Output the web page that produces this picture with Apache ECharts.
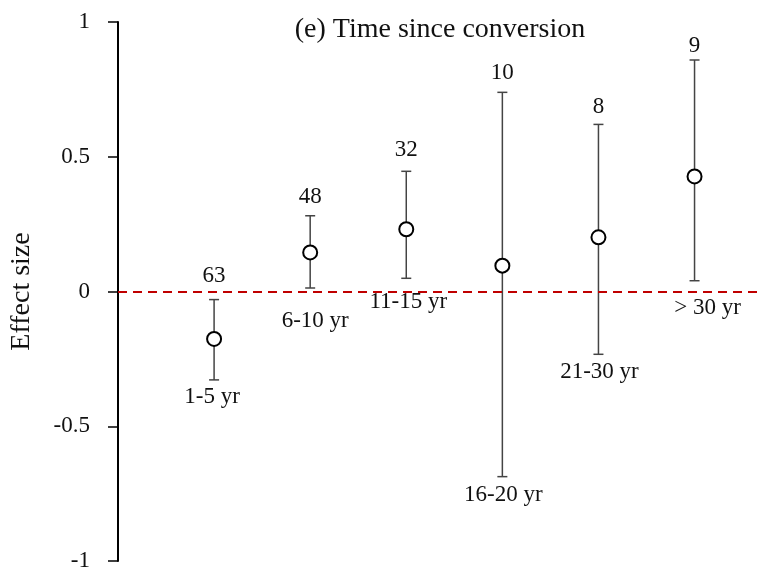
<!DOCTYPE html>
<html>
<head>
<meta charset="utf-8">
<script src="https://cdn.jsdelivr.net/npm/echarts@6/dist/echarts.min.js"></script>
<style>
  html, body { margin: 0; padding: 0; background: #fff; }
  #mainChart { width: 757px; height: 575px; }
</style>
</head>
<body>
<div id="mainChart"></div>
<script>
// 数据
var categories = ['1-5 yr', '6-10 yr', '11-15 yr', '16-20 yr', '21-30 yr', '> 30 yr'];
var means = [-0.176, 0.145, 0.231, 0.096, 0.201, 0.427];
var lower = [-0.328, 0.013, 0.049, -0.687, -0.233, 0.040];
var upper = [-0.030, 0.281, 0.446, 0.739, 0.620, 0.859];
var counts = [63, 48, 32, 10, 8, 9];
var yTicks = [-1, -0.5, 0, 0.5, 1];

// label placement (px) – hand tuned like the original figure
var nLabelDy = [-24, -19, -21, -19, -17, -14];
var catLabelDy = [17, 33, 24, 18, 18, 27];
var catLabelDx = [-2, 5, 2, 1, 1, 13];

var font = '"Liberation Serif", "Times New Roman", serif';

var seriesData = means.map(function (m, i) {
    return [i + 1, m, lower[i], upper[i], counts[i], i];
});

var myChart = echarts.init(document.getElementById('mainChart'));

myChart.setOption({
    animation: false,
    title: {
        text: '(e) Time since conversion',
        left: 435,
        textAlign: 'center',
        top: 11,
        textStyle: { fontFamily: font, fontSize: 28, fontWeight: 'normal', color: '#111' }
    },
    grid: { left: 118, right: 0, top: 22, bottom: 14 },
    xAxis: {
        type: 'value',
        min: 0,
        max: 6.65,
        show: false
    },
    yAxis: {
        type: 'value',
        min: yTicks[0],
        max: yTicks[yTicks.length - 1],
        interval: 0.5,
        name: 'Effect size',
        nameLocation: 'middle',
        nameGap: 82,
        nameTextStyle: { fontFamily: font, fontSize: 28, color: '#111' },
        axisLine: { show: true, lineStyle: { color: '#000', width: 2 } },
        axisTick: { show: true, inside: false, length: 10, lineStyle: { color: '#000', width: 1.5 } },
        axisLabel: { margin: 28, fontFamily: font, fontSize: 23, color: '#111' },
        splitLine: { show: false }
    },
    series: [{
        type: 'custom',
        data: seriesData,
        encode: { x: 0, y: 1 },
        renderItem: function (params, api) {
            var i = api.value(5);
            var c = api.coord([api.value(0), api.value(1)]);
            var lo = api.coord([api.value(0), api.value(2)]);
            var hi = api.coord([api.value(0), api.value(3)]);
            var x = c[0];
            var cap = 5;
            var lineStyle = { stroke: '#444', lineWidth: 1.5 };
            return {
                type: 'group',
                children: [
                    { type: 'line', shape: { x1: x, y1: lo[1], x2: x, y2: hi[1] }, style: lineStyle },
                    { type: 'line', shape: { x1: x - cap, y1: lo[1], x2: x + cap, y2: lo[1] }, style: lineStyle },
                    { type: 'line', shape: { x1: x - cap, y1: hi[1], x2: x + cap, y2: hi[1] }, style: lineStyle },
                    { type: 'circle', shape: { cx: x, cy: c[1], r: 7 }, style: { fill: '#fff', stroke: '#000', lineWidth: 2 } },
                    {
                        type: 'text',
                        style: {
                            x: x, y: hi[1] + nLabelDy[i], text: String(api.value(4)),
                            align: 'center', verticalAlign: 'middle',
                            font: '23px ' + font, fill: '#111'
                        }
                    },
                    {
                        type: 'text',
                        style: {
                            x: x + catLabelDx[i], y: lo[1] + catLabelDy[i], text: categories[i],
                            align: 'center', verticalAlign: 'middle',
                            font: '23px ' + font, fill: '#111'
                        }
                    }
                ]
            };
        },
        markLine: {
            silent: true,
            symbol: 'none',
            label: { show: false },
            lineStyle: { color: '#c00000', type: [9, 6], width: 2 },
            data: [{ yAxis: 0 }]
        },
        z: 3
    }]
});
</script>
</body>
</html>
